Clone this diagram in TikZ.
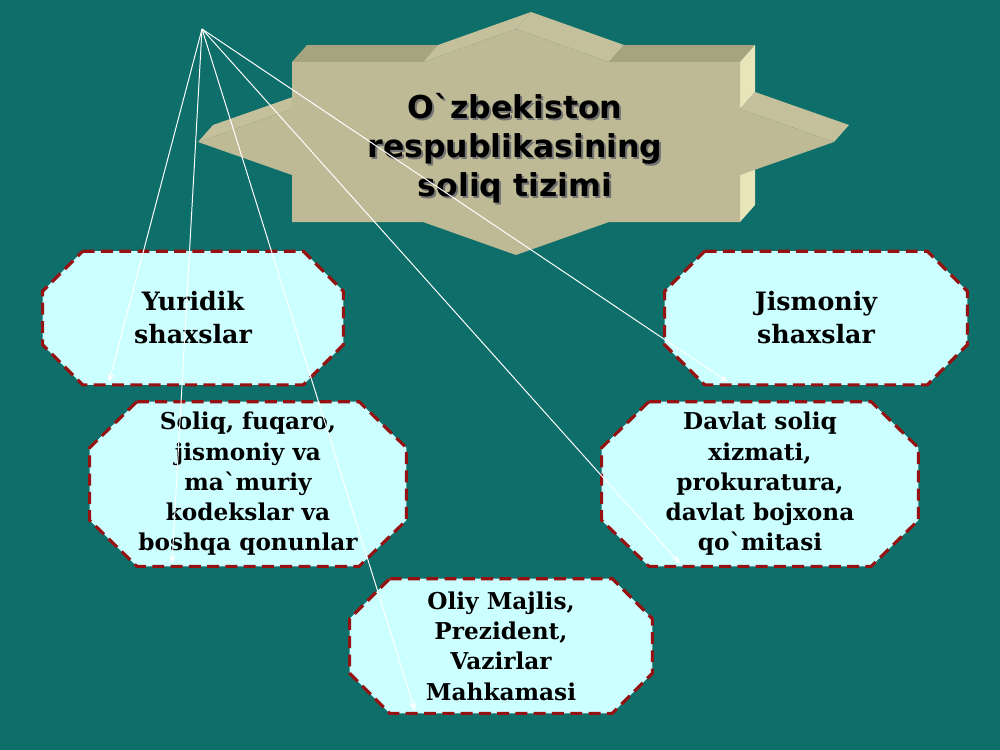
\documentclass[tikz,border=0pt]{standalone}
\usepackage{fontspec}
\usepackage{tikz}
\usepackage{xcolor}
\usetikzlibrary{arrows.meta,backgrounds}
\newfontfamily\boxfont{DejaVu Serif}
\newfontfamily\headfont{DejaVu Sans}
\definecolor{slidebg}{RGB}{14,110,106}
\definecolor{boxfill}{RGB}{204,255,255}
\definecolor{boxline}{RGB}{150,18,18}
\definecolor{starfront}{RGB}{190,186,150}
\definecolor{startop}{RGB}{166,163,127}
\definecolor{starside}{RGB}{232,229,186}
\definecolor{starslope}{RGB}{196,192,156}
\tikzset{
    oct-box/.style = {rectangle, inner sep=0pt, align=center, font=\boxfont\bfseries\fontsize{16.5}{21.5}\selectfont},
    oct-box-big/.style = {oct-box, font=\boxfont\bfseries\fontsize{18}{23.5}\selectfont},
    oct-line/.style = {draw=boxline, fill=boxfill, line width=2.2pt, dash pattern=on 8.5pt off 4.5pt},
    ray/.style = {draw=white, line width=0.7pt, -{Stealth[length=6pt,width=5pt]}},
    head-text/.style = {align=center, font=\headfont\bfseries\fontsize{22.4}{27.6}\selectfont},
}
% octagon round a node: name, corner cut x, corner cut y
\newcommand{\octframe}[3]{%
  \path[oct-line] ([xshift=#2]#1.north west) -- ([xshift=-#2]#1.north east) -- ([yshift=-#3]#1.north east)
    -- ([yshift=#3]#1.south east) -- ([xshift=-#2]#1.south east) -- ([xshift=#2]#1.south west)
    -- ([yshift=#3]#1.south west) -- ([yshift=-#3]#1.north west) -- cycle;}

\begin{document}
\begin{tikzpicture}[x=0.025cm, y=-0.025cm]
\useasboundingbox (0,0) rectangle (1000,750);

\node[head-text, text=black!55] (head-shadow) at (517,150) {O\textasciigrave zbekiston\\respublikasining\\soliq tizimi};
\node[head-text] (head) at (515,148) {O\textasciigrave zbekiston\\respublikasining\\soliq tizimi};

\node[oct-box-big, minimum width=7.5cm, minimum height=3.325cm] (yuridik) at (193,318) {Yuridik\\shaxslar};
\node[oct-box-big, minimum width=7.55cm, minimum height=3.325cm] (jismoniy) at (816,318) {Jismoniy\\shaxslar};
\node[oct-box, minimum width=7.9cm, minimum height=4.1cm] (qonunlar) at (248,484) {Soliq, fuqaro,\\jismoniy va\\ma\textasciigrave muriy\\kodekslar va\\boshqa qonunlar};
\node[oct-box, minimum width=7.9cm, minimum height=4.1cm] (organlar) at (760,484) {Davlat soliq\\xizmati,\\prokuratura,\\davlat bojxona\\qo\textasciigrave mitasi};
\node[oct-box, minimum width=7.55cm, minimum height=3.35cm] (majlis) at (501,646) {Oliy Majlis,\\Prezident,\\Vazirlar\\Mahkamasi};

\begin{pgfonlayer}{background}
\fill[slidebg] (0,0) rectangle (1000,750);
% title star, faces seen from the side
\fill[starslope] (198,142) -- (292,109) -- ++(15,-17) -- (213,125) -- cycle;
\fill[startop] (292,62) -- (423,62) -- ++(15,-17) -- (307,45) -- cycle;
\fill[starslope] (423,62) -- (516,29) -- ++(15,-17) -- (438,45) -- cycle;
\fill[starslope] (516,29) -- (609,62) -- ++(15,-17) -- (531,12) -- cycle;
\fill[startop] (609,62) -- (740,62) -- ++(15,-17) -- (624,45) -- cycle;
\fill[starside] (740,62) -- (740,109) -- ++(15,-17) -- (755,45) -- cycle;
\fill[starslope] (740,109) -- (834,142) -- ++(15,-17) -- (755,92) -- cycle;
\fill[starside] (740,175) -- (740,222) -- ++(15,-17) -- (755,158) -- cycle;
% front face
\fill[starfront] (198,142) -- (292,109) -- (292,62) -- (423,62) -- (516,29) -- (609,62) -- (740,62) -- (740,109) -- (834,142) -- (740,175) -- (740,222) -- (609,222) -- (516,255) -- (423,222) -- (292,222) -- (292,175) -- cycle;

\octframe{yuridik}{1cm}{1cm}
\octframe{jismoniy}{1cm}{1cm}
\octframe{qonunlar}{1.18cm}{1.15cm}
\octframe{organlar}{1.18cm}{1.15cm}
\octframe{majlis}{1cm}{1cm}
\end{pgfonlayer}

\coordinate (apex) at (202,29);
\draw[ray] (apex) -- ([xshift=-2.1cm,yshift=2pt]yuridik.south);
\draw[ray] (apex) -- ([xshift=-1.9cm,yshift=2pt]qonunlar.south);
\draw[ray] (apex) -- ([xshift=-2.15cm,yshift=2pt]majlis.south);
\draw[ray] (apex) -- ([xshift=-2cm,yshift=2pt]organlar.south);
\draw[ray] (apex) -- ([xshift=-2.2cm,yshift=2pt]jismoniy.south);
\end{tikzpicture}
\end{document}
